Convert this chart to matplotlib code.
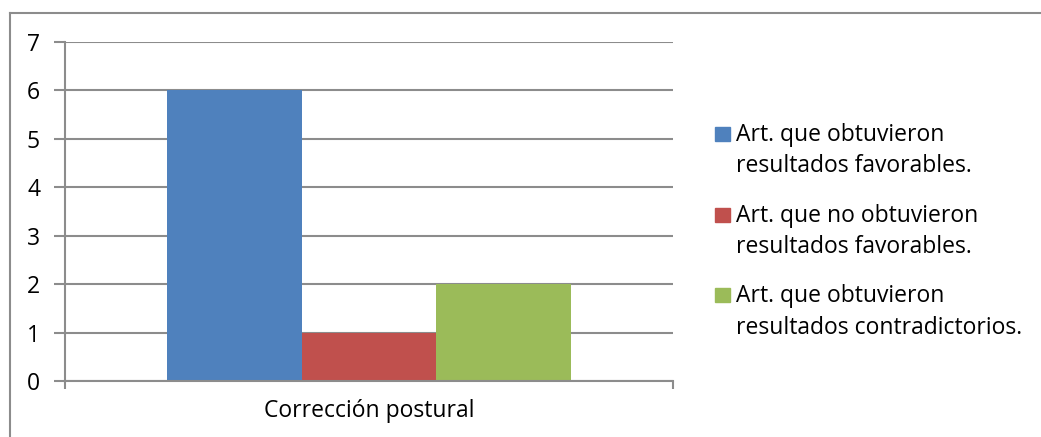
import matplotlib
matplotlib.use("Agg")
import matplotlib.pyplot as plt
from matplotlib.lines import Line2D
from matplotlib.patches import Rectangle

categories = ["Corrección postural"]
series_labels = [
    ["Art. que obtuvieron", "resultados favorables."],
    ["Art. que no obtuvieron", "resultados favorables."],
    ["Art. que obtuvieron", "resultados contradictorios."],
]
series_values = [6, 1, 2]
series_colors = ["#4F81BD", "#C0504D", "#9BBB59"]
y_ticks = [0, 1, 2, 3, 4, 5, 6, 7]

plt.rcParams["font.family"] = ["Open Sans", "DejaVu Sans"]
grey = "#8C8C8C"
fsize = 16.5

fig = plt.figure(figsize=(10.41, 4.37), dpi=100)
W, H = 1041, 437
ax = fig.add_axes([65 / W, 1 - 381 / H, 608 / W, 339 / H])

width = 0.221
for i, (value, color) in enumerate(zip(series_values, series_colors)):
    ax.bar(0 + (i - 1) * width, value, width=width, color=color, zorder=3)

ax.set_xlim(-0.5, 0.5)
ax.set_ylim(0, 7)
ax.set_yticks(y_ticks)
ax.set_yticklabels([str(t) for t in y_ticks], fontsize=fsize)
ax.set_xticks([0])
ax.set_xticklabels(categories, fontsize=fsize)
ax.set_xticks([-0.5, 0.5], minor=True)
ax.tick_params(axis="x", which="major", length=0, pad=13)
ax.tick_params(axis="x", which="minor", length=6, color=grey, width=1.5)
ax.tick_params(axis="y", length=8, color=grey, width=1.5, pad=10)

ax.grid(axis="y", color=grey, linewidth=1.5, zorder=0)
for side in ["top", "right"]:
    ax.spines[side].set_visible(False)
for side in ["left", "bottom"]:
    ax.spines[side].set_color(grey)
    ax.spines[side].set_linewidth(1.5)
ax.spines["bottom"].set_zorder(4)

# legend drawn by hand so that the swatch sits on the first text line
for i, (lines, color) in enumerate(zip(series_labels, series_colors)):
    top = 127 + 80.5 * i
    fig.add_artist(Rectangle((715 / W, 1 - (top + 14) / H), 15 / W, 14 / H,
                             transform=fig.transFigure, color=color))
    for j, line in enumerate(lines):
        fig.text(736 / W, 1 - (top + 14 + 31.5 * j) / H, line,
                 fontsize=fsize, ha="left", va="baseline")

# outer chart frame (cropped: only top and left edges visible)
fig.add_artist(Line2D([10 / W, 1], [1 - 12.5 / H, 1 - 12.5 / H],
                      transform=fig.transFigure, color=grey, linewidth=1.5))
fig.add_artist(Line2D([10 / W, 10 / W], [0, 1 - 12.5 / H],
                      transform=fig.transFigure, color=grey, linewidth=1.5))

fig.savefig("out.png", dpi=100)
